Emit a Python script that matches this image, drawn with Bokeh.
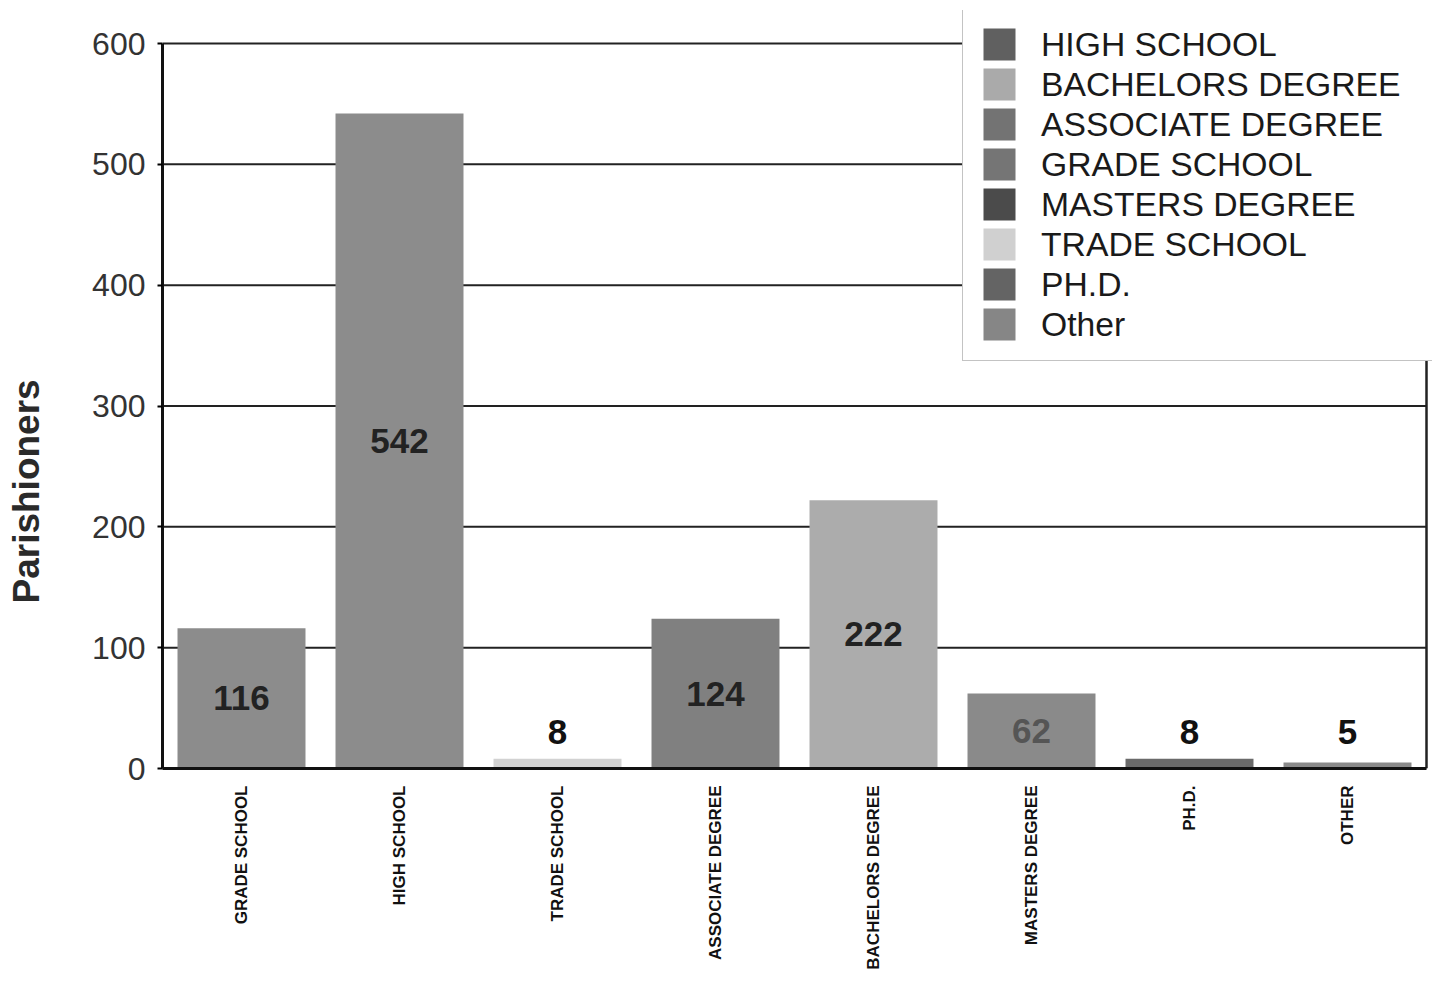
import numpy as np
from bokeh.plotting import figure
from bokeh.layouts import row
from bokeh.models import (ColumnDataSource, Range1d, Legend, LegendItem, FixedTicker)
from bokeh.core.properties import value
from bokeh.embed import file_html
from bokeh.resources import INLINE

# ---- data ----
categories = ["GRADE SCHOOL", "HIGH SCHOOL", "TRADE SCHOOL", "ASSOCIATE DEGREE",
              "BACHELORS DEGREE", "MASTERS DEGREE", "PH.D.", "OTHER"]
counts = [116, 542, 8, 124, 222, 62, 8, 5]
bar_colors = ["#8c8c8c", "#8c8c8c", "#d2d2d2", "#808080",
              "#acacac", "#8a8a8a", "#6a6a6a", "#8a8a8a"]
label_colors = ["#222222", "#222222", "#111111", "#222222",
                "#222222", "#555555", "#111111", "#111111"]

legend_labels = ["HIGH SCHOOL", "BACHELORS DEGREE", "ASSOCIATE DEGREE", "GRADE SCHOOL",
                 "MASTERS DEGREE", "TRADE SCHOOL", "PH.D.", "Other"]
legend_colors = ["#606060", "#aaaaaa", "#737373", "#757575",
                 "#4b4b4b", "#d0d0d0", "#646464", "#868686"]

y_ticks = [0, 100, 200, 300, 400, 500, 600]
y_max = 600
y_title = "Parishioners"

FONT = "Liberation Sans"
H = 973
TITLE_W = 60
FRAME_H = 758   # frame height of the main chart (the row aligns both frames)

# ---- narrow strip holding the y-axis title (sits below the axis centre, as in the original)
t = figure(width=TITLE_W, height=H, x_range=Range1d(0, TITLE_W), y_range=Range1d(0, FRAME_H),
           min_border=0, x_axis_type=None, y_axis_type=None,
           output_backend="svg", toolbar_location=None)
t.outline_line_color = None
t.grid.grid_line_color = None
t.background_fill_color = "white"
t.border_fill_color = "white"
t.text(x=[26], y=[165], text=[y_title], angle=np.pi / 2,
       text_align="left", text_baseline="middle",
       text_font=value(FONT), text_font_size="37px", text_font_style="bold",
       text_color="#2a2a2a")

# ---- main chart
n = len(categories)
xpos = [i + 0.5 for i in range(n)]
label_y = [max(v / 2.0, 30) for v in counts]
src = ColumnDataSource(dict(x=xpos, count=counts, color=bar_colors,
                            ly=label_y, txt=[str(v) for v in counts], tcol=label_colors))

# frame slightly larger than the axes box so the legend can overhang top/right
p = figure(x_range=Range1d(0, n * 1270 / 1264), y_range=Range1d(0, y_max * 758 / 725),
           width=1432 - TITLE_W, height=H,
           min_border_left=162 - TITLE_W, min_border_right=0, min_border_top=10,
           min_border_bottom=205,
           output_backend="svg", toolbar_location=None)

p.background_fill_color = "white"
p.border_fill_color = "white"
p.outline_line_color = None
p.xgrid.grid_line_color = None
p.ygrid.grid_line_color = None

# grid lines and right border of the axes box
p.segment(x0=[0] * len(y_ticks), x1=[n] * len(y_ticks), y0=y_ticks, y1=y_ticks,
          line_color="#222222", line_width=2)
p.segment(x0=[n], x1=[n], y0=[0], y1=[y_max], line_color="#222222", line_width=2.5)

p.vbar(x="x", top="count", width=0.81, source=src, fill_color="color", line_color=None)

p.text(x="x", y="ly", text="txt", source=src, text_align="center", text_baseline="middle",
       text_font=value(FONT), text_font_size="35px", text_font_style="bold", text_color="tcol")

# y axis
ya = p.yaxis[0]
ya.ticker = FixedTicker(ticks=y_ticks)
ya.bounds = (0, y_max)
ya.major_label_text_font = FONT
ya.major_label_text_font_size = "32px"
ya.major_label_text_color = "#333333"
ya.axis_line_width = 3
ya.axis_line_color = "#111111"
ya.major_tick_out = 5
ya.major_tick_in = 0
ya.major_tick_line_width = 2
ya.minor_tick_line_color = None
ya.major_label_standoff = 12

# x axis
xa = p.xaxis[0]
xa.ticker = FixedTicker(ticks=xpos)
xa.major_label_overrides = {x: c for x, c in zip(xpos, categories)}
xa.bounds = (0, n)
xa.major_label_orientation = np.pi / 2
xa.major_label_text_font = FONT
xa.major_label_text_font_size = "17px"
xa.major_label_text_font_style = "bold"
xa.major_label_text_color = "#111111"
xa.major_label_standoff = 11
xa.axis_line_width = 3
xa.axis_line_color = "#111111"
xa.major_tick_line_color = None
xa.minor_tick_line_color = None

# legend (own swatches, zero-height so nothing shows in the plot)
items = []
for lab, col in zip(legend_labels, legend_colors):
    r = p.vbar(x=[xpos[0]], top=[0], bottom=[0], width=0.0, fill_color=col, line_color=None)
    items.append(LegendItem(label=lab, renderers=[r]))

legend = Legend(items=items, location=(800, 407), orientation="vertical",
                label_text_font=FONT, label_text_font_size="33.7px", label_text_color="#1a1a1a",
                glyph_width=40, glyph_height=40, label_height=38, spacing=0,
                label_standoff=22, padding=16, margin=0, label_width=376,
                border_line_color="#888888", border_line_width=1.5,
                background_fill_color="white", background_fill_alpha=1.0)
p.add_layout(legend, "center")

layout = row(t, p, spacing=0)
open("out.html", "w").write(file_html(layout, INLINE))
